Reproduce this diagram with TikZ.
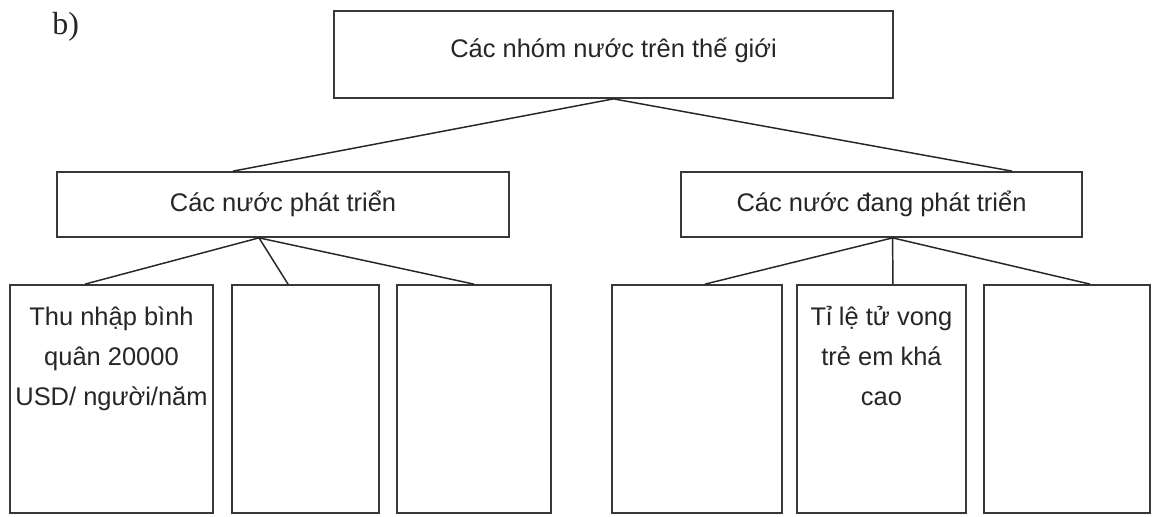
\documentclass[tikz,border=0pt]{standalone}
\usepackage{fontspec}
\setmainfont{Liberation Sans}
\newfontfamily\seriffont{Liberation Serif}
\begin{document}
\begin{tikzpicture}[x=0.75pt,y=-0.75pt,
  box/.style 2 args={draw=black!78, line width=1.3pt, fill=white, inner sep=0pt,
    minimum width=#1*0.75pt, minimum height=#2*0.75pt},
  lbl/.style={anchor=base, inner sep=0pt, text=black!85,
    font=\fontsize{19.1pt}{30pt}\selectfont},
  conn/.style={draw=black!85, line width=1.1pt}]
\useasboundingbox (0,0) rectangle (1153,517);
\fill[white] (0,0) rectangle (1153,517);
\node[anchor=base west, inner sep=0pt, text=black!85, font=\seriffont\fontsize{24pt}{28pt}\selectfont] (lb) at (52,35) {b)};
% boxes
\node[box={559}{87}] (top) at (613.5,54.5) {};
\node[box={452}{65}] (midL) at (283,204.5) {};
\node[box={401}{65}] (midR) at (881.5,204.5) {};
\node[box={203}{228}] (b1) at (111.5,399) {};
\node[box={147}{228}] (b2) at (305.5,399) {};
\node[box={154}{228}] (b3) at (474,399) {};
\node[box={170}{228}] (b4) at (697,399) {};
\node[box={169}{228}] (b5) at (881.5,399) {};
\node[box={166}{228}] (b6) at (1067,399) {};
% texts
\node[lbl] (ttop) at (613.5,58) {Các nhóm nước trên thế giới};
\node[lbl] (tmidL) at (283,211) {Các nước phát triển};
\node[lbl] (tmidR) at (881.5,211) {Các nước đang phát triển};
\node[lbl] (tb1) at (111.5,325) {\setlength\tabcolsep{0pt}\begin{tabular}[t]{c}Thu nhập bình\\quân 20000\\USD/ người/năm\end{tabular}};
\node[lbl] (tb5) at (881.5,325) {\setlength\tabcolsep{0pt}\begin{tabular}[t]{c}Tỉ lệ tử vong\\trẻ em khá\\cao\end{tabular}};
% connectors
\draw[conn] (top.south) -- ([xshift=-37.5pt]midL.north);
\draw[conn] (top.south) -- ([xshift=97.9pt]midR.north);
\draw[conn] ([xshift=-18pt]midL.south) -- ([xshift=-19.9pt]b1.north);
\draw[conn] ([xshift=-18pt]midL.south) -- ([xshift=-13.1pt]b2.north);
\draw[conn] ([xshift=-18pt]midL.south) -- (b3.north);
\draw[conn] ([xshift=8.3pt]midR.south) -- ([xshift=6pt]b4.north);
\draw[conn] ([xshift=8.3pt]midR.south) -- ([xshift=8.6pt]b5.north);
\draw[conn] ([xshift=8.3pt]midR.south) -- ([xshift=17.3pt]b6.north);
\end{tikzpicture}
\end{document}
